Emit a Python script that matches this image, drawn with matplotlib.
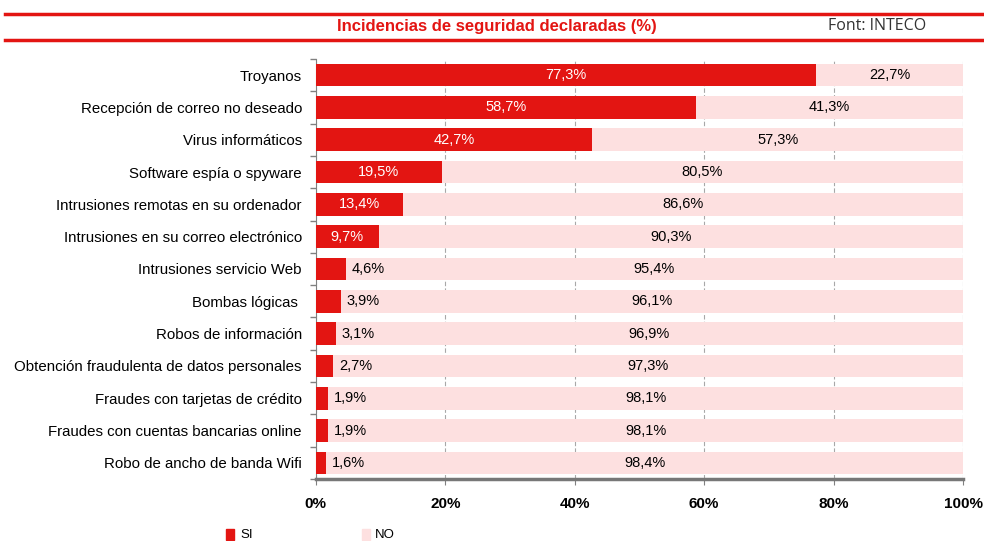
import numpy as np
import matplotlib
matplotlib.use("Agg")
from matplotlib import pyplot as plt
from matplotlib.ticker import FixedLocator

categorias = ["Troyanos", "Recepción de correo no deseado", "Virus informáticos",
              "Software espía o spyware", "Intrusiones remotas en su ordenador",
              "Intrusiones en su correo electrónico", "Intrusiones servicio Web",
              "Bombas lógicas ", "Robos de información",
              "Obtención fraudulenta de datos personales", "Fraudes con tarjetas de crédito",
              "Fraudes con cuentas bancarias online", "Robo de ancho de banda Wifi"]
si = [77.3, 58.7, 42.7, 19.5, 13.4, 9.7, 4.6, 3.9, 3.1, 2.7, 1.9, 1.9, 1.6]
no = [22.7, 41.3, 57.3, 80.5, 86.6, 90.3, 95.4, 96.1, 96.9, 97.3, 98.1, 98.1, 98.4]
xticks = [0, 20, 40, 60, 80, 100]

ROJO = "#e31512"
ROSA = "#fde0e0"

plt.rcParams['font.family'] = ['Liberation Sans', 'DejaVu Sans']

fig = plt.figure(figsize=(9.84, 5.41), dpi=100)
ax = fig.add_axes([0.321, 0.1146, 0.6577, 0.7764])
ax.set_axisbelow(True)

y = np.arange(len(categorias))
ax.barh(y, si, height=0.7, color=ROJO, zorder=3)
ax.barh(y, no, left=si, height=0.7, color=ROSA, zorder=3)

def fmt(v):
    return ("%.1f%%" % v).replace(".", ",")

for i in range(len(categorias)):
    if si[i] >= 9:
        ax.text(si[i] / 2, y[i], fmt(si[i]), color="white", ha="center", va="center",
                fontsize=10.5, zorder=4)
    else:
        ax.text(si[i] + 0.9, y[i], fmt(si[i]), color="black", ha="left", va="center",
                fontsize=10.5, zorder=4)
    ax.text(si[i] + no[i] / 2, y[i], fmt(no[i]), color="black", ha="center", va="center",
            fontsize=10.5, zorder=4)

ax.set_xlim(0, 100)
ax.set_ylim(len(categorias) - 0.5, -0.5)
ax.set_yticks(y)
ax.set_yticklabels(categorias, fontsize=10.8)
ax.yaxis.set_minor_locator(FixedLocator(np.arange(-0.5, len(categorias), 1)))
ax.tick_params(axis="y", which="major", length=0, pad=10)
ax.tick_params(axis="y", which="minor", length=4, color="#808080", width=1)
ax.set_xticks(xticks)
ax.set_xticklabels([str(t) + "%" for t in xticks], fontsize=11, fontweight="bold")
ax.tick_params(axis="x", length=4, color="#808080", pad=9)
ax.xaxis.grid(True, color="#a8a8a8", linewidth=0.8, linestyle=(0, (4, 2)))

for s in ["top", "right"]:
    ax.spines[s].set_visible(False)
ax.spines["left"].set_color("#808080")
ax.spines["bottom"].set_color("#777777")
ax.spines["bottom"].set_linewidth(2.5)

# cabecera
fig.add_artist(plt.Line2D([0.005, 1.0], [1 - 14 / 541, 1 - 14 / 541], color=ROJO, linewidth=2.5))
fig.add_artist(plt.Line2D([0.005, 1.0], [1 - 40 / 541, 1 - 40 / 541], color=ROJO, linewidth=2.5))
fig.text(497 / 984, 1 - 27 / 541, "Incidencias de seguridad declaradas (%)", color=ROJO,
         fontsize=12, fontweight="bold", ha="center", va="center")
fig.text(877 / 984, 1 - 26 / 541, "Font: INTECO", color="#333333", fontsize=11.5,
         ha="center", va="center", family=["Open Sans", "DejaVu Sans"])

# leyenda
fig.patches.append(plt.Rectangle((226 / 984, 1 - 540 / 541), 8 / 984, 11 / 541,
                                 transform=fig.transFigure, color=ROJO, figure=fig))
fig.text(240 / 984, 1 - 535 / 541, "SI", fontsize=9.5, ha="left", va="center")
fig.patches.append(plt.Rectangle((362 / 984, 1 - 540 / 541), 8 / 984, 11 / 541,
                                 transform=fig.transFigure, color=ROSA, figure=fig))
fig.text(375 / 984, 1 - 535 / 541, "NO", fontsize=9.5, ha="left", va="center")

fig.savefig("out.png", dpi=100)
